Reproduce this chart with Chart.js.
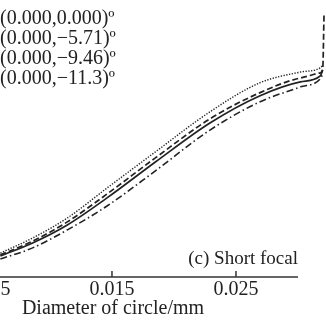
<!DOCTYPE html>
<html>
<head>
<meta charset="utf-8">
<script src="https://cdn.jsdelivr.net/npm/chart.js@4.4.0/dist/chart.umd.min.js"></script>
<style>
html, body { margin: 0; padding: 0; background: #fff; }
canvas { display: block; }
</style>
</head>
<body>
<canvas id="myChart" width="326" height="324"></canvas>
<script>
'use strict';

// diameter of circle (mm) and encircled energy
var diameters = [0.006, 0.0086, 0.0114, 0.0146, 0.0185, 0.0229, 0.0269, 0.0302, 0.0318, 0.0320, 0.0321];
var energyA = [0.081, 0.131, 0.200, 0.304, 0.442, 0.592, 0.696, 0.750, 0.773, 0.796, null];
var energyB = [0.085, 0.138, 0.212, 0.319, 0.458, 0.608, 0.708, 0.765, 0.785, 0.804, 1.008];
var energyC = [0.092, 0.150, 0.227, 0.342, 0.481, 0.635, 0.746, 0.788, 0.804, 0.815, null];
var energyD = [0.069, 0.112, 0.181, 0.273, 0.408, 0.565, 0.673, 0.731, 0.762, 0.781, null];
var fieldLabels = ['(0.000,0.000)\u00ba', '(0.000,\u22125.71)\u00ba', '(0.000,\u22129.46)\u00ba', '(0.000,\u221211.3)\u00ba'];
var tickValues = [0.005, 0.015, 0.025];
var axisEnd = 0.03;
var axisTitle = 'Diameter of circle/mm';
var panelCaption = '(c) Short focal';

var serif = '"Liberation Serif", "Times New Roman", serif';
var ink = '#222';

function toPoints(values) {
    return values.map(function(v, i) {
        return {x: diameters[i], y: v};
    });
}

// axis line that stops at 0.03, inward ticks, legend text, axis title and panel caption
var decorPlugin = {
    id: 'decor',
    afterDraw: function(chart) {
        var ctx = chart.ctx;
        var xs = chart.scales.x;
        var bottom = chart.chartArea.bottom;
        ctx.save();
        ctx.strokeStyle = '#333';
        ctx.lineWidth = 1.5;
        ctx.beginPath();
        ctx.moveTo(0, bottom);
        ctx.lineTo(xs.getPixelForValue(axisEnd), bottom);
        tickValues.forEach(function(v) {
            var px = xs.getPixelForValue(v);
            ctx.moveTo(px, bottom);
            ctx.lineTo(px, bottom - 6);
        });
        ctx.stroke();

        ctx.fillStyle = ink;
        ctx.font = '20px ' + serif;
        ctx.textBaseline = 'middle';
        ctx.textAlign = 'left';
        chart.data.datasets.forEach(function(ds, i) {
            ctx.fillText(ds.label, 0, 19 + i * 20);
        });

        // title centred on the whole axis of the original figure
        ctx.textAlign = 'center';
        ctx.fillText(axisTitle, 113, 309);

        ctx.font = '19px ' + serif;
        ctx.textAlign = 'right';
        ctx.fillText(panelCaption, 298, 259);
        ctx.restore();
    }
};

var ctx = document.getElementById('myChart');
var myChart = new Chart(ctx, {
    type: 'line',
    plugins: [decorPlugin],
    data: {
        datasets: [{
            label: fieldLabels[0],
            data: toPoints(energyA),
            borderColor: ink,
            borderWidth: 1.7
        }, {
            label: fieldLabels[1],
            data: toPoints(energyB),
            borderColor: ink,
            borderWidth: 1.7,
            borderDash: [6, 3]
        }, {
            label: fieldLabels[2],
            data: toPoints(energyC),
            borderColor: ink,
            borderWidth: 1.4,
            borderDash: [1.3, 1.5]
        }, {
            label: fieldLabels[3],
            data: toPoints(energyD),
            borderColor: ink,
            borderWidth: 1.6,
            borderDash: [7, 3, 1.5, 3]
        }]
    },
    options: {
        responsive: false,
        animation: false,
        layout: { padding: 0 },
        elements: {
            point: { radius: 0 },
            line: { cubicInterpolationMode: 'monotone', fill: false }
        },
        plugins: {
            legend: { display: false },
            tooltip: { enabled: false }
        },
        scales: {
            x: {
                type: 'linear',
                min: 0.00597,
                max: 0.03226,
                grid: { display: false, drawTicks: false },
                border: { display: false },
                afterBuildTicks: function(scale) {
                    scale.ticks = tickValues.map(function(v) { return {value: v}; });
                },
                afterFit: function(scale) {
                    scale.height = 47;
                    scale.paddingLeft = 0;
                    scale.paddingRight = 0;
                },
                ticks: {
                    autoSkip: false,
                    maxRotation: 0,
                    padding: 1,
                    color: ink,
                    font: { family: serif, size: 20 },
                    callback: function(v) { return v.toFixed(3); }
                }
            },
            y: {
                display: false,
                min: 0,
                max: 1.065
            }
        }
    }
});
</script>
</body>
</html>
